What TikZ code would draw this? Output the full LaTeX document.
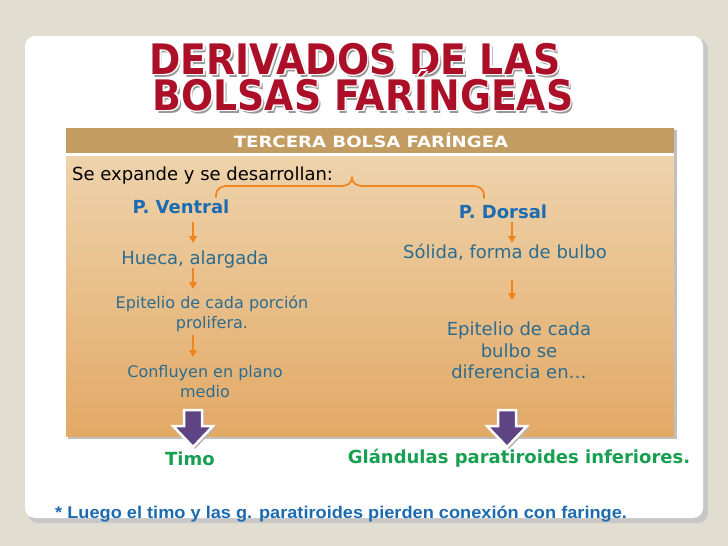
\documentclass[tikz,border=0pt]{standalone}
\usepackage{fontspec}
\setmainfont{DejaVu Sans}
\newfontfamily\arialb{Liberation Sans}
\usetikzlibrary{arrows.meta,calc}
\definecolor{bgc}{HTML}{E2DDD1}
\definecolor{hdr}{HTML}{C39C62}
\definecolor{bodytop}{HTML}{EED3AC}
\definecolor{bodybot}{HTML}{E3A966}
\definecolor{org}{HTML}{F0841E}
\definecolor{tblue}{HTML}{2B6D90}
\definecolor{hblue}{HTML}{1B6CB0}
\definecolor{grn}{HTML}{16A050}
\definecolor{purp}{HTML}{5E4482}
\definecolor{tred}{HTML}{AC1029}
\definecolor{fblue}{HTML}{1C6AB0}
\tikzset{
  txt/.style={font=\fontsize{18}{22}\selectfont, text=tblue, anchor=base, inner sep=0},
  stxt/.style={font=\fontsize{16}{20}\selectfont, text=tblue, anchor=base, inner sep=0},
  head/.style={font=\fontsize{18}{22}\selectfont\bfseries, text=hblue, anchor=base, inner sep=0},
  res/.style={font=\fontsize{18}{22}\selectfont\bfseries, text=grn, anchor=base, inner sep=0},
  oarr/.style={draw=org, line width=1.8pt, -{Triangle[length=7pt,width=7.5pt]}},
  parr/.style={fill=purp, draw=white, line width=2.5pt, line join=miter},
  ttl/.style={font=\fontsize{42}{42}\selectfont\bfseries, inner sep=0, anchor=base},
}
\newcommand{\ttltext}[1]{\scalebox{0.9}[1]{#1}}
\begin{document}
\begin{tikzpicture}[x=1pt,y=-1pt]
\fill[bgc] (0,0) rectangle (728,546);
\useasboundingbox (0,0) rectangle (728,546);
% card
\fill[black!22, rounded corners=10pt] (28,39) rectangle (708,523);
\fill[white, rounded corners=10pt] (25,36) rectangle (703,518);
% title
\foreach \t/\x/\y/\n in {DERIVADOS DE LAS/355/74/a, BOLSAS FARÍNGEAS/363/110/b}{
  \node[ttl, text=black!40] at (\x+2.5,\y+3) {\ttltext{\t}};
  \foreach \dx/\dy in {1.8/0,-1.8/0,0/1.8,0/-1.8,1.3/1.3,-1.3/1.3,1.3/-1.3,-1.3/-1.3}
    \node[ttl, text=white] at (\x+\dx,\y+\dy) {\ttltext{\t}};
  \node[ttl, text=tred] (title\n) at (\x,\y) {\ttltext{\t}};
}
% orange box
\fill[black!25] (68,130) rectangle (677,439);
\shade[top color=bodytop, bottom color=bodybot] (66,155) rectangle (674,436);
\fill[hdr] (66,128) rectangle (674,153);
\fill[white] (66,153) rectangle (674,155.5);
\node[font=\fontsize{15.5}{18}\selectfont\bfseries, text=white, inner sep=0, anchor=base] (hdrt) at (371,147) {\scalebox{1.17}[1]{TERCERA BOLSA FARÍNGEA}};
\node[txt, text=black, anchor=base west] (se) at (72,180) {Se expande y se desarrollan:};
% brace
\draw[org, line width=1.7pt, line cap=round]
  (216,197) -- (216,195) to[out=90,in=180] (226,186) -- (342,186)
  to[out=0,in=270] (352,178) to[out=270,in=180] (362,186) -- (474,186)
  to[out=0,in=90] (484,195) -- (484,198);
% column axes
\coordinate (lx) at (193,0);
\coordinate (rx) at (512,0);
% left column
\node[head] (pv) at (181,213) {P. Ventral};
\node[txt] (hu) at (195,264) {Hueca, alargada};
\node[stxt] (ep1) at (212,308) {Epitelio de cada porción};
\node[stxt] (ep2) at (212,328) {prolifera.};
\node[stxt] (co1) at (205,377) {Confluyen en plano};
\node[stxt] (co2) at (205,397) {medio};
\node[res] (timo) at (190,465) {Timo};
\draw[oarr] ($(pv.base -| lx)+(0,9)$) -- ($(hu.base -| lx)+(0,-21)$);
\draw[oarr] ($(hu.base -| lx)+(0,4)$) -- ($(ep1.base -| lx)+(0,-19)$);
\draw[oarr] ($(ep2.base -| lx)+(0,7)$) -- ($(co1.base -| lx)+(0,-20)$);
% right column
\node[head] (pd) at (503,218) {P. Dorsal};
\node[txt] (so) at (505,258) {Sólida, forma de bulbo};
\node[txt] (eb1) at (519,335) {Epitelio de cada};
\node[txt] (eb2) at (519,357) {bulbo se};
\node[txt] (eb3) at (519,378) {diferencia en…};
\node[res] (gl) at (519,463) {Glándulas paratiroides inferiores.};
\draw[oarr] ($(pd.base -| rx)+(0,4)$) -- ($(so.base -| rx)+(0,-15)$);
\draw[oarr] ($(so.base -| rx)+(0,22)$) -- ($(eb1.base -| rx)+(0,-35)$);
% purple block arrows
\foreach \cx/\n in {193/l, 507/r}{
  \fill[black!30] (\cx-9+2,412) -- (\cx+9+2,412) -- (\cx+9+2,428) -- (\cx+20+2,428) -- (\cx+2,449) -- (\cx-20+2,428) -- (\cx-9+2,428) -- cycle;
  \draw[parr] (\cx-9,410) -- (\cx+9,410) -- (\cx+9,426) -- (\cx+20,426) -- (\cx,447) -- (\cx-20,426) -- (\cx-9,426) -- cycle;
}
% footnote
\node[font=\arialb\fontsize{17}{19}\selectfont\bfseries, text=fblue, anchor=base west, inner sep=0] (fn) at (55,518) {\scalebox{1.07}[1]{* Luego el timo y las g. paratiroides pierden conexión con faringe.}};
\end{tikzpicture}
\end{document}
